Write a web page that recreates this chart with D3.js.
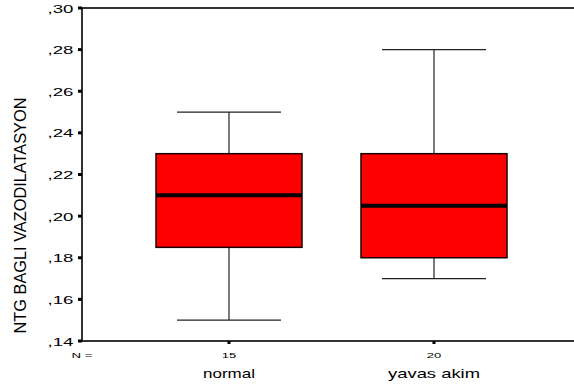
<!DOCTYPE html>
<html>
<head>
<meta charset="utf-8">
<script src="https://cdn.jsdelivr.net/npm/d3@7"></script>
<style>
  html, body { margin: 0; padding: 0; background: #fff; }
  svg { display: block; font-family: Arial, "Liberation Sans", sans-serif; }
</style>
</head>
<body>
<svg id="chart" width="574" height="385"></svg>
<script>
// Groups and their case counts
const groups = ["normal", "yavas akim"];
const counts = [15, 20];
// Five-number summaries per group
const whiskerLow  = [0.15, 0.17];
const quartile1   = [0.185, 0.18];
const medians     = [0.21, 0.205];
const quartile3   = [0.23, 0.23];
const whiskerHigh = [0.25, 0.28];
// Y axis ticks
const yTicks = [0.14, 0.16, 0.18, 0.20, 0.22, 0.24, 0.26, 0.28, 0.30];
const yTitle = "NTG BAGLI VAZODILATASYON";

(function () {
  const svg = d3.select("#chart");
  const plotLeft = 82, plotTop = 8, plotBottom = 341, plotRight = 640;

  const y = d3.scaleLinear().domain([0.14, 0.30]).range([plotBottom, plotTop]);
  const x = d3.scalePoint().domain(groups).range([229, 434]);

  const fmt = v => "," + d3.format(".2f")(v).split(".")[1];

  // horizontally stretched text, centred on cx, scaled to a fixed drawn width
  function wideText(parent, cx, baseline, size, width, str) {
    const t = parent.append("text")
      .attr("text-anchor", "middle")
      .attr("font-size", size)
      .attr("fill", "#000")
      .text(str);
    const natural = t.node().getComputedTextLength() || width;
    t.attr("transform", `translate(${cx},${baseline}) scale(${width / natural},1)`);
    return t;
  }

  // plot frame
  svg.append("rect")
    .attr("x", plotLeft).attr("y", plotTop)
    .attr("width", plotRight - plotLeft).attr("height", plotBottom - plotTop)
    .attr("fill", "none").attr("stroke", "#000").attr("stroke-width", 1.6);

  // y ticks and labels
  const yAxis = svg.append("g");
  yTicks.forEach(t => {
    yAxis.append("rect")
      .attr("x", plotLeft - 4).attr("y", y(t) - 1.5)
      .attr("width", 4).attr("height", 3).attr("fill", "#000");
    wideText(yAxis, 73.5 - 13, y(t) + 4.5, 11.5, 26, fmt(t));
  });

  // y title
  svg.append("text")
    .attr("transform", `translate(25.5,${(98 + 333) / 2}) rotate(-90)`)
    .attr("text-anchor", "middle")
    .attr("font-size", 17)
    .attr("textLength", 236).attr("lengthAdjust", "spacingAndGlyphs")
    .attr("fill", "#000")
    .text(yTitle);

  // N row label
  wideText(svg, 82, 357.5, 8, 21, "N =");

  const boxW = 146, capW = 104;
  const labelWidths = [52, 92];

  groups.forEach((g, i) => {
    const cx = x(g);
    const gEl = svg.append("g");
    // x tick mark
    gEl.append("rect")
      .attr("x", cx - 1.5).attr("y", plotBottom).attr("width", 3).attr("height", 3)
      .attr("fill", "#000");
    wideText(gEl, cx, 357.5, 8, 14.5, String(counts[i]));
    wideText(gEl, cx, 377.5, 12, labelWidths[i], g);

    // whiskers
    gEl.append("line")
      .attr("x1", cx).attr("x2", cx)
      .attr("y1", y(whiskerHigh[i])).attr("y2", y(quartile3[i]))
      .attr("stroke", "#222").attr("stroke-width", 1.2);
    gEl.append("line")
      .attr("x1", cx).attr("x2", cx)
      .attr("y1", y(quartile1[i])).attr("y2", y(whiskerLow[i]))
      .attr("stroke", "#222").attr("stroke-width", 1.2);
    [whiskerHigh[i], whiskerLow[i]].forEach(v => {
      gEl.append("line")
        .attr("x1", cx - capW / 2).attr("x2", cx + capW / 2)
        .attr("y1", y(v)).attr("y2", y(v))
        .attr("stroke", "#222").attr("stroke-width", 1.2);
    });

    // box
    gEl.append("rect")
      .attr("x", cx - boxW / 2).attr("y", y(quartile3[i]))
      .attr("width", boxW).attr("height", y(quartile1[i]) - y(quartile3[i]))
      .attr("fill", "#ff0000").attr("stroke", "#1a0000").attr("stroke-width", 1.5);

    // median
    gEl.append("line")
      .attr("x1", cx - boxW / 2).attr("x2", cx + boxW / 2)
      .attr("y1", y(medians[i])).attr("y2", y(medians[i]))
      .attr("stroke", "#000").attr("stroke-width", 4);
  });
})();
</script>
</body>
</html>
